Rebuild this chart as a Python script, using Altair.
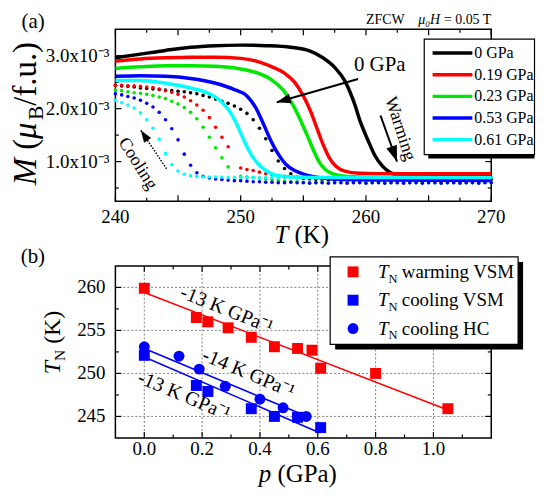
import altair as alt
import pandas as pd

FONT = "Liberation Serif"
W, HA, HB = 378, 173, 173

# ---------------- panel (a) data ----------------
PRESSURES = ["0 GPa", "0.19 GPa", "0.23 GPa", "0.53 GPa", "0.61 GPa"]
COLORS_A = ["#000000", "#ff0000", "#00e800", "#0000ff", "#00ffff"]

# warming curves (solid lines), M in units of 1e-3 muB/f.u.
WARM_T_000 = [240, 242, 244, 246, 248, 250, 252, 254, 255.5, 256.5, 257.5, 258.3, 259.0, 259.6,
              260.2, 260.7, 261.3, 261.9, 262.6, 264, 267, 270]
WARM_M_000 = [2.96, 3.03, 3.10, 3.16, 3.19, 3.20, 3.19, 3.16, 3.09, 2.97, 2.78, 2.53, 2.15, 1.72,
              1.38, 1.12, 0.92, 0.80, 0.74, 0.72, 0.72, 0.72]
WARM_T_019 = [240, 242, 244, 246, 248, 250, 251.5, 252.5, 253.5, 254.3, 255.0, 255.6, 256.1, 256.6,
              257.1, 257.6, 258.3, 259.5, 262, 270]
WARM_M_019 = [2.90, 2.94, 2.96, 2.97, 2.97, 2.95, 2.88, 2.79, 2.67, 2.50, 2.24, 1.94, 1.62, 1.31,
              1.06, 0.91, 0.82, 0.78, 0.77, 0.77]
WARM_T_023 = [240, 242, 244, 246, 248, 250, 251.5, 252.5, 253.4, 254.1, 254.7, 255.3, 255.8, 256.3,
              256.8, 257.5, 258.5, 262, 270]
WARM_M_023 = [2.76, 2.79, 2.81, 2.81, 2.80, 2.75, 2.66, 2.54, 2.35, 2.10, 1.82, 1.50, 1.22, 0.98,
              0.84, 0.76, 0.72, 0.70, 0.69]
WARM_T_053 = [240, 242, 244, 246, 248, 249.5, 250.5, 251.2, 251.8, 252.4, 253.0, 253.6, 254.3, 255.2,
              256.5, 258, 262, 270]
WARM_M_053 = [2.61, 2.62, 2.61, 2.57, 2.48, 2.36, 2.24, 2.02, 1.72, 1.40, 1.14, 0.95, 0.83, 0.75,
              0.69, 0.66, 0.65, 0.64]
WARM_T_061 = [240, 242, 244, 246, 247.5, 248.5, 249.2, 249.8, 250.3, 250.8, 251.3, 251.9, 252.6, 253.6,
              256, 262, 270]
WARM_M_061 = [2.53, 2.53, 2.48, 2.39, 2.28, 2.12, 1.92, 1.65, 1.38, 1.15, 0.98, 0.85, 0.76, 0.72,
              0.70, 0.70, 0.70]

# cooling curves (dots)
COOL_T = [240.0, 240.5, 241.0, 241.5, 242.0, 242.5, 243.0, 243.5, 244.0, 244.5,
          245.0, 245.5, 246.0, 246.5, 247.0, 247.5, 248.0, 248.5, 249.0, 249.5,
          250.0, 250.5, 251.0, 251.5, 252.0, 252.5, 253.0, 253.5, 254.0, 254.5,
          255.0, 255.5, 256.0, 256.5, 257.0, 257.5, 258.0, 258.5, 259.0, 259.5,
          260.0, 260.5, 261.0, 261.5, 262.0, 262.5, 263.0, 263.5, 264.0, 264.5,
          265.0, 265.5, 266.0, 266.5, 267.0, 267.5, 268.0, 268.5, 269.0, 269.5, 270.0]
COOL_M_000 = [2.44, 2.43, 2.42, 2.41, 2.39, 2.38, 2.37, 2.36, 2.35, 2.34,
              2.33, 2.32, 2.30, 2.28, 2.25, 2.22, 2.18, 2.14, 2.10, 2.05,
              1.99, 1.91, 1.79, 1.63, 1.43, 1.21, 1.01, 0.87, 0.77, 0.71,
              0.68, 0.67, 0.66, 0.66, 0.65, 0.65, 0.66, 0.65, 0.65, 0.66,
              0.65, 0.65, 0.66, 0.65, 0.65, 0.65, 0.66, 0.65, 0.65, 0.66,
              0.65, 0.65, 0.65, 0.66, 0.65, 0.65, 0.66, 0.65, 0.65, 0.65, 0.66]
COOL_M_019 = [2.44, 2.44, 2.43, 2.43, 2.42, 2.41, 2.40, 2.37, 2.34, 2.31,
              2.27, 2.22, 2.15, 2.07, 1.97, 1.83, 1.65, 1.46, 1.28, None,
              0.88, 0.85, 0.83, 0.80, 0.77, 0.75, 0.73, 0.72, 0.71, 0.70,
              0.70, 0.70, 0.69, 0.70, 0.70, 0.69, 0.70, 0.70, 0.69, 0.70,
              0.70, 0.69, 0.70, 0.70, 0.70, 0.69, 0.70, 0.70, 0.69, 0.70,
              0.70, 0.69, 0.70, 0.70, 0.69, 0.70, 0.70, 0.69, 0.70, 0.70, 0.69]
COOL_M_023 = [2.35, 2.34, 2.32, 2.30, 2.29, 2.27, 2.25, 2.22, 2.19, 2.14,
              2.09, 2.02, 1.93, 1.81, 1.65, 1.46, 1.26, 1.07, 0.90, None,
              0.72, 0.71, 0.70, 0.69, 0.67, 0.66, 0.64, 0.63, 0.62, 0.62,
              0.61, 0.61, 0.60, 0.61, 0.60, 0.60, 0.61, 0.60, 0.60, 0.61,
              0.60, 0.60, 0.61, 0.60, 0.60, 0.60, 0.61, 0.60, 0.60, 0.61,
              0.60, 0.60, 0.61, 0.60, 0.60, 0.61, 0.60, 0.60, 0.60, 0.61, 0.60]
COOL_M_053 = [2.28, 2.26, 2.23, 2.20, 2.16, 2.10, 2.03, 1.93, 1.79, 1.62,
              1.41, 1.14, 0.93, 0.79, 0.72, 0.69, 0.67, 0.66, 0.65, 0.64,
              0.64, 0.63, 0.62, 0.62, 0.61, 0.61, 0.60, 0.60, 0.61, 0.60,
              0.60, 0.59, 0.60, 0.60, 0.59, 0.60, 0.60, 0.59, 0.60, 0.60,
              0.59, 0.60, 0.60, 0.59, 0.60, 0.60, 0.59, 0.60, 0.60, 0.59,
              0.60, 0.60, 0.59, 0.60, 0.60, 0.59, 0.60, 0.60, 0.59, 0.60, 0.60]
COOL_M_061 = [2.16, 2.11, 2.07, 2.01, 1.92, 1.79, 1.63, 1.42, 1.15, 0.94,
              0.82, 0.76, 0.73, 0.72, 0.71, 0.71, 0.71, 0.71, 0.70, 0.70,
              0.70, 0.70, 0.70, 0.69, 0.70, 0.70, 0.69, 0.70, 0.70, 0.69,
              0.70, 0.70, 0.69, 0.70, 0.70, 0.69, 0.70, 0.70, 0.69, 0.70,
              0.70, 0.69, 0.70, 0.70, 0.69, 0.70, 0.70, 0.69, 0.70, 0.70,
              0.69, 0.70, 0.70, 0.69, 0.70, 0.70, 0.69, 0.70, 0.70, 0.69, 0.70]

A_X_LABELS = [240, 250, 260, 270]
A_X_TEXT = ["240", "250", "260", "270"]
A_X_MAJOR = [240, 245, 250, 255, 260, 265, 270]
A_X_MINOR = [242.5, 247.5, 252.5, 257.5, 262.5, 267.5]
A_Y_LABELS = [1.0, 2.0, 3.0]
A_Y_TEXT = ["1.0x10\u207b\u00b3", "2.0x10\u207b\u00b3", "3.0x10\u207b\u00b3"]
A_Y_MINOR = [0.5, 1.5, 2.5]

# ---------------- panel (b) data ----------------
SERIES_B = ["warming VSM", "cooling VSM", "cooling HC"]
COLORS_B = ["#ff0000", "#0000ff", "#0000ff"]
SHAPES_B = ["square", "square", "circle"]
P_WARM_VSM = [0.0, 0.18, 0.22, 0.29, 0.37, 0.45, 0.53, 0.58, 0.61, 0.80, 1.05]
T_WARM_VSM = [259.9, 256.5, 256.0, 255.3, 254.2, 253.1, 252.9, 252.7, 250.6, 250.0, 245.9]
P_COOL_VSM = [0.0, 0.18, 0.22, 0.37, 0.45, 0.53, 0.61]
T_COOL_VSM = [252.1, 248.6, 247.9, 245.9, 245.0, 244.9, 243.7]
P_COOL_HC = [0.0, 0.12, 0.19, 0.28, 0.40, 0.48, 0.53, 0.56]
T_COOL_HC = [253.1, 252.0, 250.5, 248.5, 247.0, 246.0, 244.9, 245.0]
FIT_WARM_P, FIT_WARM_T = [0.0, 1.05], [259.4, 245.75]
FIT_HC_P, FIT_HC_T = [0.0, 0.57], [252.9, 244.9]
FIT_VSM_P, FIT_VSM_T = [0.0, 0.60], [251.9, 243.2]

B_X_LABELS = [0.0, 0.2, 0.4, 0.6, 0.8, 1.0]
B_X_TEXT = ["0.0", "0.2", "0.4", "0.6", "0.8", "1.0"]
B_X_MINOR = [0.1, 0.3, 0.5, 0.7, 0.9, 1.1]
B_Y_LABELS = [245, 250, 255, 260]
B_Y_TEXT = ["245", "250", "255", "260"]
B_Y_MINOR = [247.5, 252.5, 257.5]

# ---------------- helpers ----------------
XA = alt.Scale(domain=[240, 270], nice=False, zero=False)
YA = alt.Scale(domain=[0.25, 3.5], nice=False, zero=False)
XB = alt.Scale(domain=[-0.1, 1.2], nice=False, zero=False)
YB = alt.Scale(domain=[242.5, 262.5], nice=False, zero=False)
HEAD = "M0,0L0.7,2L-0.7,2Z"


def xrules(values, scale, y0, y1, width=1.2, color="black", dash=None):
    kw = dict(color=color, strokeWidth=width)
    if dash:
        kw["strokeDash"] = dash
    return alt.Chart(pd.DataFrame({"v": values})).mark_rule(**kw).encode(
        x=alt.X("v:Q", scale=scale, axis=None), y=alt.value(y0), y2=alt.value(y1))


def yrules(values, scale, x0, x1, width=1.2, color="black", dash=None):
    kw = dict(color=color, strokeWidth=width)
    if dash:
        kw["strokeDash"] = dash
    return alt.Chart(pd.DataFrame({"v": values})).mark_rule(**kw).encode(
        y=alt.Y("v:Q", scale=scale, axis=None), x=alt.value(x0), x2=alt.value(x1))


def frame_ticks(xmaj, xmin, ymaj, ymin, xs, ys, h):
    return [
        xrules(xmaj, xs, h, h - 6), xrules(xmin, xs, h, h - 3.5),
        xrules(xmaj, xs, 0, 6), xrules(xmin, xs, 0, 3.5),
        yrules(ymaj, ys, 0, 6), yrules(ymin, ys, 0, 3.5),
        yrules(ymaj, ys, W, W - 6), yrules(ymin, ys, W, W - 3.5),
    ]


def xlabels(values, texts, scale, y, size=19):
    return alt.Chart(pd.DataFrame({"v": values, "t": texts})).mark_text(
        font=FONT, fontSize=size, color="black", align="center", baseline="alphabetic").encode(
        x=alt.X("v:Q", scale=scale, axis=None), y=alt.value(y), text="t:N")


def ylabels(values, texts, scale, x, size=19):
    return alt.Chart(pd.DataFrame({"v": values, "t": texts})).mark_text(
        font=FONT, fontSize=size, color="black", align="right", baseline="middle").encode(
        y=alt.Y("v:Q", scale=scale, axis=None), x=alt.value(x), text="t:N")


def ptext(text, x, y, size, align="left", baseline="alphabetic", angle=None, style="normal"):
    kw = dict(align=align, baseline=baseline, font=FONT, fontSize=size, fontStyle=style, color="black")
    if angle is not None:
        kw["angle"] = angle
    return alt.Chart(pd.DataFrame({"t": [text]})).mark_text(**kw).encode(
        text="t:N", x=alt.value(x), y=alt.value(y))


def dtext(text, xv, yv, xs, ys, size, angle=None):
    kw = dict(align="center", baseline="middle", font=FONT, fontSize=size, color="black")
    if angle is not None:
        kw["angle"] = angle
    return alt.Chart(pd.DataFrame({"t": [text], "x": [xv], "y": [yv]})).mark_text(**kw).encode(
        text="t:N", x=alt.X("x:Q", scale=xs, axis=None), y=alt.Y("y:Q", scale=ys, axis=None))


def arrow(x0, y0, x1, y1, xs, ys, head_angle, head_size, width=1.8, dash=None):
    kw = dict(color="black", strokeWidth=width)
    if dash:
        kw["strokeDash"] = dash
    shaft = alt.Chart(pd.DataFrame({"x": [x0, x1], "y": [y0, y1]})).mark_line(**kw).encode(
        x=alt.X("x:Q", scale=xs, axis=None), y=alt.Y("y:Q", scale=ys, axis=None))
    head = alt.Chart(pd.DataFrame({"x": [x1], "y": [y1]})).mark_point(
        shape=HEAD, filled=True, color="black", opacity=1, size=head_size, angle=head_angle,
        strokeWidth=0).encode(x=alt.X("x:Q", scale=xs, axis=None), y=alt.Y("y:Q", scale=ys, axis=None))
    return [shaft, head]


def box(x0, x1, y0, y1, fill, stroke=None):
    kw = dict(fill=fill)
    if stroke:
        kw.update(stroke=stroke, strokeWidth=1.2)
    return alt.Chart(pd.DataFrame({"a": [0]})).mark_rect(**kw).encode(
        x=alt.value(x0), x2=alt.value(x1), y=alt.value(y0), y2=alt.value(y1))


def hline(x0, x1, y, color, width):
    return alt.Chart(pd.DataFrame({"a": [0]})).mark_rule(color=color, strokeWidth=width).encode(
        x=alt.value(x0), x2=alt.value(x1), y=alt.value(y))


def symbol(x, y, shape, color, size):
    return alt.Chart(pd.DataFrame({"a": [0]})).mark_point(
        shape=shape, filled=True, color=color, opacity=1, size=size, strokeWidth=0).encode(
        x=alt.value(x), y=alt.value(y))


# ---------------- panel (a) ----------------
warm_rows, cool_rows = [], []
for name, ts, ms in zip(PRESSURES,
                        [WARM_T_000, WARM_T_019, WARM_T_023, WARM_T_053, WARM_T_061],
                        [WARM_M_000, WARM_M_019, WARM_M_023, WARM_M_053, WARM_M_061]):
    warm_rows += [{"p": name, "T": t, "M": m} for t, m in zip(ts, ms)]
for name, ms in zip(PRESSURES, [COOL_M_000, COOL_M_019, COOL_M_023, COOL_M_053, COOL_M_061]):
    cool_rows += [{"p": name, "T": t, "M": m} for t, m in zip(COOL_T, ms) if m is not None]
warm_df = pd.DataFrame(warm_rows)
cool_df = pd.DataFrame(cool_rows)

CA = alt.Scale(domain=PRESSURES, range=COLORS_A)

dots = alt.Chart(cool_df).mark_circle(size=13, opacity=1).encode(
    x=alt.X("T:Q", scale=XA, axis=None), y=alt.Y("M:Q", scale=YA, axis=None),
    color=alt.Color("p:N", scale=CA, legend=None))

lines = alt.Chart(warm_df).mark_line(strokeWidth=3.5, interpolate="monotone").encode(
    x=alt.X("T:Q", scale=XA, axis=None), y=alt.Y("M:Q", scale=YA, axis=None),
    color=alt.Color("p:N", scale=CA, legend=None))

ann_a = []
ann_a += arrow(259.37, 2.56, 252.88, 2.12, XA, YA, 254, 200, width=2)
ann_a += arrow(261.16, 1.87, 262.48, 1.00, XA, YA, 160, 256, width=2)
ann_a += arrow(244.15, 0.84, 242.03, 1.59, XA, YA, 326, 150, width=1.5, dash=[1.5, 1.5])
ann_a.append(dtext("0 GPa", 261.1, 2.82, XA, YA, 21))
ann_a.append(dtext("Warming", 262.72, 1.62, XA, YA, 18, angle=72))
ann_a.append(dtext("Cooling", 241.77, 0.96, XA, YA, 18, angle=58))

TB = -80  # baseline of the rotated y title of panel (a)
titles_a = [
    ptext("(a)", -82.7, -7.5, 21, align="center", baseline="middle"),
    ptext("= 0.05 T", W, -5, 14, align="right"),
    ptext("\u03bc\u2080H", W - 51.5, -5, 14, align="right", style="italic"),
    ptext("ZFCW", W - 87, -5, 14, align="right"),
    ptext("T", 159.9, 214.8, 25, style="italic"),
    ptext("(K)", 180.1, 214.8, 25),
    ptext("M", TB, 157, 33, angle=270, style="italic"),
    ptext("(", TB, 121.3, 33, angle=270),
    ptext("\u03bc", TB, 110.3, 33, angle=270, style="italic"),
    ptext("B", TB + 7.3, 91.3, 21.5, angle=270),
    ptext("/f.u.)", TB, 76.9, 33, angle=270),
]

legend_a = [box(314.6, 421.5, 14, 130, "black"), box(310.6, 421.5, 10, 126, "white", "black")]
for i, (name, col) in enumerate(zip(PRESSURES, COLORS_A)):
    ry = 24 + i * 21.75
    legend_a.append(hline(319, 359, ry, col, 3.5))
    legend_a.append(ptext(name, 361, ry, 16, baseline="middle"))

panel_a = alt.layer(
    dots,
    *frame_ticks(A_X_MAJOR, A_X_MINOR, A_Y_LABELS, A_Y_MINOR, XA, YA, HA),
    xlabels(A_X_LABELS, A_X_TEXT, XA, 194.5),
    ylabels(A_Y_LABELS, A_Y_TEXT, YA, -6),
    lines, *ann_a, *titles_a, *legend_a,
).properties(width=W, height=HA)

# ---------------- panel (b) ----------------
pts_rows = []
for name, ps, ts in zip(SERIES_B, [P_WARM_VSM, P_COOL_VSM, P_COOL_HC], [T_WARM_VSM, T_COOL_VSM, T_COOL_HC]):
    pts_rows += [{"s": name, "p": p, "T": t} for p, t in zip(ps, ts)]
pts_df = pd.DataFrame(pts_rows)

grid_b = [
    xrules(B_X_LABELS, XB, 0, HB, width=1, color="#808080", dash=[2, 2]),
    yrules(B_Y_LABELS, YB, 0, W, width=1, color="#808080", dash=[2, 2]),
]

points = alt.Chart(pts_df).mark_point(filled=True, opacity=1, size=121, strokeWidth=0).encode(
    x=alt.X("p:Q", scale=XB, axis=None),
    y=alt.Y("T:Q", scale=YB, axis=None),
    color=alt.Color("s:N", scale=alt.Scale(domain=SERIES_B, range=COLORS_B), legend=None),
    shape=alt.Shape("s:N", scale=alt.Scale(domain=SERIES_B, range=SHAPES_B), legend=None))

fits = []
for ps, ts, col in [(FIT_WARM_P, FIT_WARM_T, "#ff0000"), (FIT_HC_P, FIT_HC_T, "#0000ff"),
                    (FIT_VSM_P, FIT_VSM_T, "#0000ff")]:
    fits.append(alt.Chart(pd.DataFrame({"p": ps, "T": ts})).mark_line(color=col, strokeWidth=1.6).encode(
        x=alt.X("p:Q", scale=XB, axis=None), y=alt.Y("T:Q", scale=YB, axis=None)))

ann_b = [
    dtext("-13 K GPa\u207b\u00b9", 0.285, 257.4, XB, YB, 20, angle=22),
    dtext("-14 K GPa\u207b\u00b9", 0.36, 250.0, XB, YB, 20, angle=23),
    dtext("-13 K GPa\u207b\u00b9", 0.137, 247.4, XB, YB, 20, angle=23),
]

titles_b = [
    ptext("(b)", -83, -9, 21, align="center", baseline="middle"),
    ptext("p", 144.3, 217.5, 25, style="italic"),
    ptext("(GPa)", 163.05, 217.5, 25),
    ptext("T", -56, 109, 24, angle=270, style="italic"),
    ptext("N", -51, 95.7, 15.6, angle=270),
    ptext("(K)", -56, 78.4, 24, angle=270),
]

legend_b = [box(221, 410, -4, 84, "black"), box(216, 405, -9, 79, "white", "black")]
for i, (name, col, shp) in enumerate(zip(SERIES_B, COLORS_B, SHAPES_B)):
    ry = 6 + i * 28.5
    legend_b.append(symbol(239, ry, shp, col, 121))
    legend_b.append(ptext("T", 264, ry + 6, 19, style="italic"))
    legend_b.append(ptext("N", 274.6, ry + 11, 12.5))
    legend_b.append(ptext(name, 288, ry + 6, 19))

panel_b = alt.layer(
    *grid_b, *fits, points,
    *frame_ticks(B_X_LABELS, B_X_MINOR, B_Y_LABELS, B_Y_MINOR, XB, YB, HB),
    xlabels(B_X_LABELS, B_X_TEXT, XB, 189.8),
    ylabels(B_Y_LABELS, B_Y_TEXT, YB, -10),
    *ann_b, *titles_b, *legend_b,
).properties(width=W, height=HB)

chart = alt.vconcat(panel_a, panel_b, spacing=65, bounds="flush").resolve_scale(
    color="independent", shape="independent"
).properties(
    padding={"left": 1, "top": 0, "right": 0, "bottom": 0}
).configure_view(stroke="black", strokeWidth=1.5)

chart.save("out.html", embed_options={"renderer": "svg", "actions": False})
